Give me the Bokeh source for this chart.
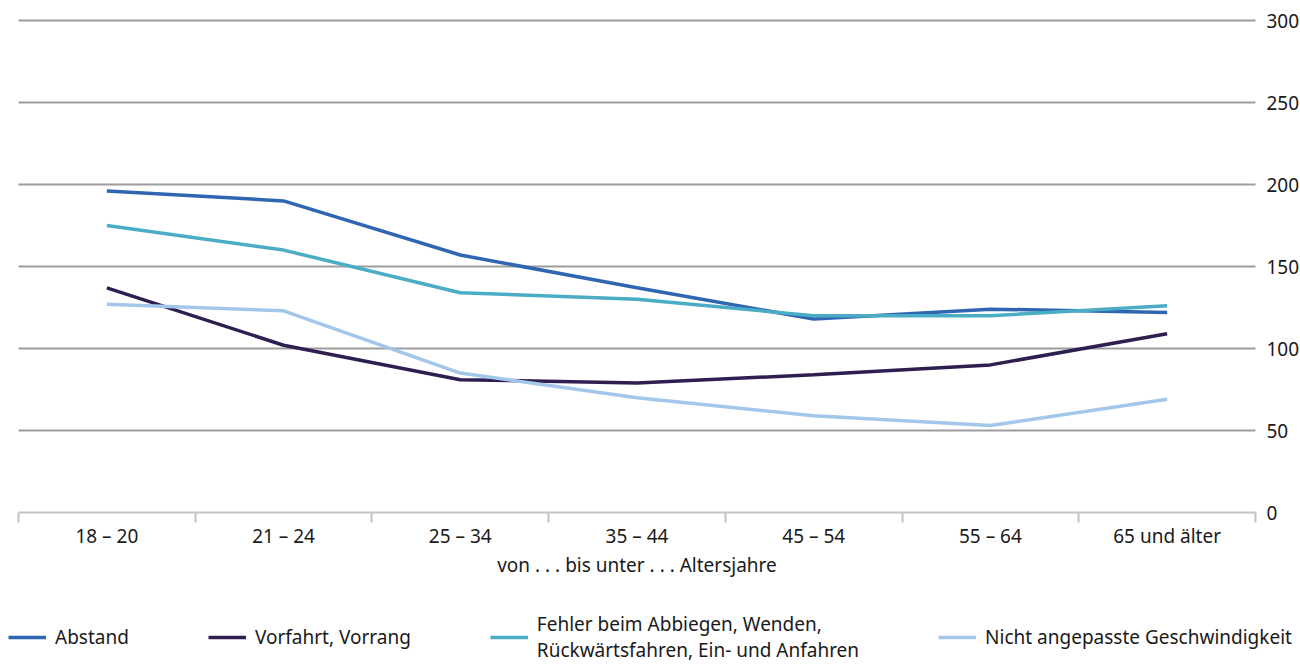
from bokeh.plotting import figure
from bokeh.models import FixedTicker, Range1d, Legend, LegendItem
from bokeh.embed import file_html
from bokeh.resources import INLINE

categories = ["18 – 20", "21 – 24", "25 – 34", "35 – 44", "45 – 54", "55 – 64", "65 und älter"]
abstand = [196, 190, 157, 137, 118, 124, 122]
vorfahrt = [137, 102, 81, 79, 84, 90, 109]
fehler = [175, 160, 134, 130, 120, 120, 126]
nicht_angepasst = [127, 123, 85, 70, 59, 53, 69]
series_names = ["Abstand", "Vorfahrt, Vorrang",
                "Fehler beim Abbiegen, Wenden,\nRückwärtsfahren, Ein- und Anfahren",
                "Nicht angepasste Geschwindigkeit"]
series_values = [abstand, vorfahrt, fehler, nicht_angepasst]
colors = ["#2f66b2", "#2e1f50", "#4aacc5", "#a3c7ea"]
y_ticks = [0, 50, 100, 150, 200, 250, 300]
x_label = "von . . . bis unter . . . Altersjahre"

FONT = "Noto Sans"
FS = "19px"
TXT = "#1a1a1a"

# layout (pixels): the frame fills the whole canvas, axes are pinned inside it
W, H = 1300, 664
AX_L, AX_R = 18, 1255           # where the category axis starts / ends
Y0_PX, Y300_PX = 512, 20        # pixel rows of value 0 and 300
LEGEND_X = 8

ncat = len(categories)
px_per_cat = (AX_R - AX_L) / ncat
px_per_unit = (Y0_PX - Y300_PX) / 300.0
x_start = -AX_L / px_per_cat
x_end = ncat + (W - AX_R) / px_per_cat
y_start = -(H - Y0_PX) / px_per_unit
y_end = 300 + Y300_PX / px_per_unit

xs = [i + 0.5 for i in range(ncat)]

p = figure(width=W, height=H, x_range=Range1d(x_start, x_end), y_range=Range1d(y_start, y_end),
           output_backend="svg", toolbar_location=None, y_axis_location="right",
           min_border_left=0, min_border_top=0, min_border_right=0, min_border_bottom=0)
p.outline_line_color = None
p.background_fill_color = "white"
p.border_fill_color = "white"

# x axis, pinned at value 0
xa = p.xaxis[0]
xa.fixed_location = 0
xa.bounds = (0, ncat)
xa.ticker = FixedTicker(ticks=xs, minor_ticks=list(range(ncat + 1)))
xa.major_label_overrides = {x: c for x, c in zip(xs, categories)}
xa.major_tick_out = 0
xa.major_tick_in = 0
xa.minor_tick_out = 10
xa.minor_tick_in = 0
xa.minor_tick_line_color = "#c3c3c3"
xa.minor_tick_line_width = 2
xa.axis_line_color = "#c3c3c3"
xa.axis_line_width = 2
xa.major_label_standoff = 0
xa.major_label_text_font = FONT
xa.major_label_text_font_size = FS
xa.major_label_text_color = TXT
xa.axis_label = x_label
xa.axis_label_standoff = 0
xa.axis_label_text_font = FONT
xa.axis_label_text_font_size = FS
xa.axis_label_text_font_style = "normal"
xa.axis_label_text_color = TXT

# y axis (right), pinned at the end of the categories
ya = p.yaxis[0]
ya.fixed_location = ncat
ya.bounds = (0, 300)
ya.ticker = FixedTicker(ticks=y_ticks)
ya.axis_line_color = None
ya.major_tick_line_color = None
ya.minor_tick_line_color = None
ya.major_label_standoff = 5
ya.major_label_text_font = FONT
ya.major_label_text_font_size = FS
ya.major_label_text_color = TXT

p.xgrid.visible = False
p.ygrid.ticker = FixedTicker(ticks=[t for t in y_ticks if t > 0])
p.ygrid.cross_bounds = (0, ncat)
p.ygrid.grid_line_color = "#9d9d9d"
p.ygrid.grid_line_width = 2

items = []
for name, vals, col in zip(series_names, series_values, colors):
    r = p.line(xs, vals, line_color=col, line_width=3.5)
    items.append(LegendItem(label=name, renderers=[r]))

legend = Legend(items=items, orientation="horizontal", location=(LEGEND_X, 1),
                label_text_font=FONT, label_text_font_size=FS, label_text_color=TXT,
                label_text_line_height=1.05,
                glyph_width=38, glyph_height=20, label_standoff=9, spacing=79,
                border_line_color=None, background_fill_alpha=0,
                padding=0, margin=0)
p.add_layout(legend, "center")

open("out.html", "w").write(file_html(p, INLINE))
